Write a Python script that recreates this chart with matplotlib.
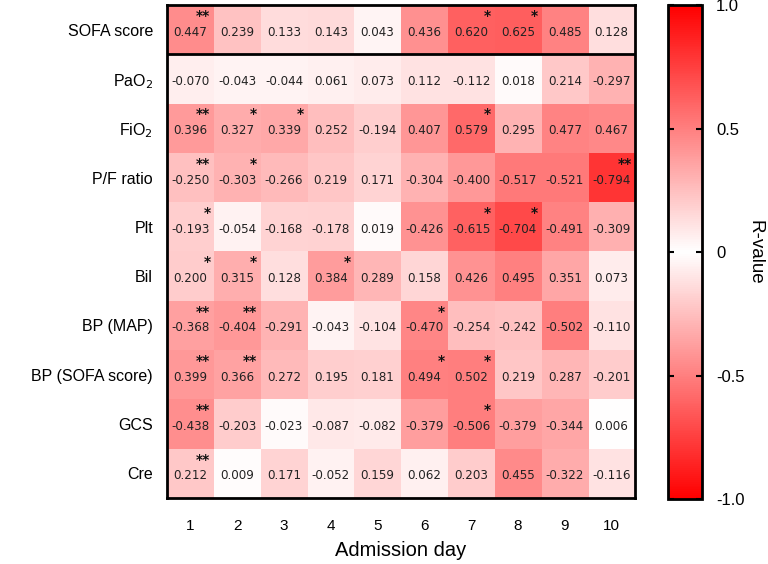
import numpy as np
import matplotlib
matplotlib.use("Agg")
import matplotlib.pyplot as plt
from matplotlib.colors import LinearSegmentedColormap

days = ["1", "2", "3", "4", "5", "6", "7", "8", "9", "10"]
variables = ["SOFA score", "PaO$_2$", "FiO$_2$", "P/F ratio", "Plt", "Bil",
             "BP (MAP)", "BP (SOFA score)", "GCS", "Cre"]

sofa = [0.447, 0.239, 0.133, 0.143, 0.043, 0.436, 0.620, 0.625, 0.485, 0.128]
pao2 = [-0.070, -0.043, -0.044, 0.061, 0.073, 0.112, -0.112, 0.018, 0.214, -0.297]
fio2 = [0.396, 0.327, 0.339, 0.252, -0.194, 0.407, 0.579, 0.295, 0.477, 0.467]
pf_ratio = [-0.250, -0.303, -0.266, 0.219, 0.171, -0.304, -0.400, -0.517, -0.521, -0.794]
plt_vals = [-0.193, -0.054, -0.168, -0.178, 0.019, -0.426, -0.615, -0.704, -0.491, -0.309]
bil = [0.200, 0.315, 0.128, 0.384, 0.289, 0.158, 0.426, 0.495, 0.351, 0.073]
bp_map = [-0.368, -0.404, -0.291, -0.043, -0.104, -0.470, -0.254, -0.242, -0.502, -0.110]
bp_sofa = [0.399, 0.366, 0.272, 0.195, 0.181, 0.494, 0.502, 0.219, 0.287, -0.201]
gcs = [-0.438, -0.203, -0.023, -0.087, -0.082, -0.379, -0.506, -0.379, -0.344, 0.006]
cre = [0.212, 0.009, 0.171, -0.052, 0.159, 0.062, 0.203, 0.455, -0.322, -0.116]

stars_sofa = ["**", "", "", "", "", "", "*", "*", "", ""]
stars_pao2 = ["", "", "", "", "", "", "", "", "", ""]
stars_fio2 = ["**", "*", "*", "", "", "", "*", "", "", ""]
stars_pf = ["**", "*", "", "", "", "", "", "", "", "**"]
stars_plt = ["*", "", "", "", "", "", "*", "*", "", ""]
stars_bil = ["*", "*", "", "*", "", "", "", "", "", ""]
stars_map = ["**", "**", "", "", "", "*", "", "", "", ""]
stars_bpsofa = ["**", "**", "", "", "", "*", "*", "", "", ""]
stars_gcs = ["**", "", "", "", "", "", "*", "", "", ""]
stars_cre = ["**", "", "", "", "", "", "", "", "", ""]

cbar_ticks = [1.0, 0.5, 0.0, -0.5, -1.0]
cbar_labels = ["1.0", "0.5", "0", "-0.5", "-1.0"]

data = np.array([sofa, pao2, fio2, pf_ratio, plt_vals, bil, bp_map, bp_sofa, gcs, cre])
stars = [stars_sofa, stars_pao2, stars_fio2, stars_pf, stars_plt, stars_bil,
         stars_map, stars_bpsofa, stars_gcs, stars_cre]

cmap = LinearSegmentedColormap.from_list("rwr", ["#ff0000", "#ffffff", "#ff0000"])

fig = plt.figure(figsize=(7.68, 5.64), dpi=100)
ax = fig.add_axes([0.2174, 0.1170, 0.6094, 0.8741])
im = ax.imshow(data, cmap=cmap, vmin=-1, vmax=1, aspect="auto")

for i in range(data.shape[0]):
    for j in range(data.shape[1]):
        ax.text(j, i + 0.05, f"{data[i, j]:.3f}", ha="center", va="center",
                fontsize=8.6, color="#222222", family="DejaVu Sans")
        if stars[i][j]:
            ax.text(j + 0.43, i - 0.28, stars[i][j], ha="right", va="center",
                    fontsize=10, color="#111111", family="DejaVu Sans",
                    fontweight="bold")

ax.axhline(0.5, color="black", lw=2)
for s in ax.spines.values():
    s.set_linewidth(2)
ax.set_xticks(range(len(days)))
ax.set_xticklabels(days, fontsize=11, family="Liberation Sans")
ax.set_yticks(range(len(variables)))
ax.set_yticklabels(variables, fontsize=11.5, family="Liberation Sans")
ax.tick_params(length=0)
ax.tick_params(axis="x", pad=15)
ax.tick_params(axis="y", pad=10)
ax.set_xlabel("Admission day", fontsize=14.5, family="Liberation Sans", labelpad=6)

cax = fig.add_axes([0.8698, 0.1152, 0.0443, 0.8759])
cb = fig.colorbar(im, cax=cax)
cb.set_ticks(cbar_ticks)
cb.set_ticklabels(cbar_labels)
cb.outline.set_linewidth(2)
cax.tick_params(direction="in", length=4, width=1.5, left=True, right=True,
                labelsize=12, pad=10)
for lab in cax.get_yticklabels():
    lab.set_family("Liberation Sans")
fig.text(755 / 768, 0.553, "R-value", rotation=270, ha="center", va="center",
         fontsize=13.5, family="Liberation Sans")

fig.savefig("out.png", dpi=100)
